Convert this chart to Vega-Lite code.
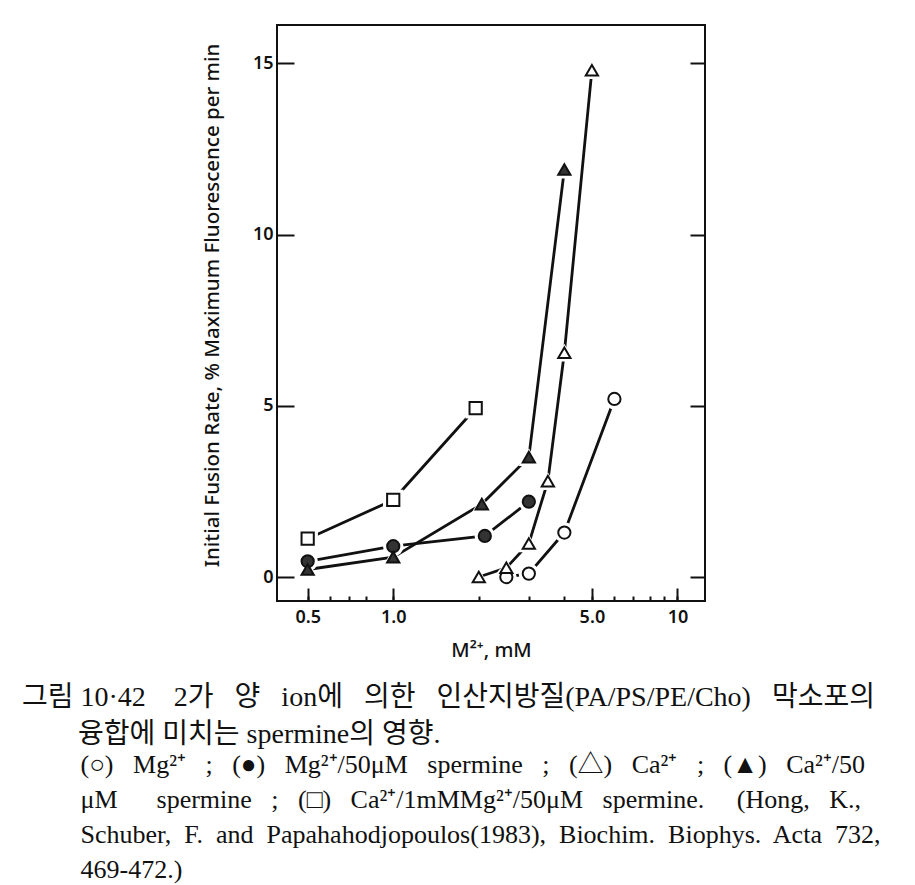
{
  "$schema": "https://vega.github.io/schema/vega-lite/v6.json",
  "width": 428,
  "height": 576,
  "autosize": {"type": "none"},
  "padding": {"left": 277, "top": 25, "right": 210, "bottom": 284},
  "background": "white",
  "config": {
    "view": {"stroke": "#111", "strokeWidth": 2},
    "axis": {
      "domain": false,
      "grid": false,
      "tickColor": "#111",
      "tickWidth": 2,
      "labelColor": "#111",
      "labelFont": "Noto Sans",
      "labelFontSize": 18,
      "labelFontWeight": 600,
      "titleColor": "#111",
      "titleFont": "Noto Sans",
      "titleFontWeight": 500,
      "titleFontSize": 20
    }
  },
  "title": {
    "text": [
      "그림 10·42\u00a0\u00a0\u00a0 2가\u00a0\u00a0 양\u00a0\u00a0 ion에\u00a0\u00a0 의한\u00a0\u00a0 인산지방질(PA/PS/PE/Cho)\u00a0\u00a0 막소포의",
      "\u200b\u2003\u2003융합에 미치는 spermine의 영향."
    ],
    "subtitle": [
      "\u200b\u2003\u2003\u00a0(○)\u00a0\u00a0 Mg²⁺\u00a0\u00a0 ;\u00a0\u00a0 (●)\u00a0\u00a0 Mg²⁺/50μM\u00a0\u00a0 spermine\u00a0\u00a0 ;\u00a0\u00a0 (△)\u00a0\u00a0 Ca²⁺\u00a0\u00a0 ;\u00a0\u00a0 (▲)\u00a0\u00a0 Ca²⁺/50",
      "\u200b\u2003\u2003\u00a0μM\u00a0\u00a0\u00a0\u00a0\u00a0 spermine\u00a0\u00a0 ;\u00a0\u00a0 (□)\u00a0\u00a0 Ca²⁺/1mMMg²⁺/50μM\u00a0\u00a0 spermine.\u00a0\u00a0\u00a0\u00a0 (Hong,\u00a0\u00a0 K.,",
      "\u200b\u2003\u2003\u00a0Schuber,\u00a0 F.\u00a0 and\u00a0 Papahahodjopoulos(1983),\u00a0 Biochim.\u00a0 Biophys.\u00a0 Acta\u00a0 732,",
      "\u200b\u2003\u2003\u00a0469-472.)"
    ],
    "orient": "bottom",
    "anchor": "start",
    "frame": "group",
    "dx": -255,
    "offset": 24,
    "font": "Liberation Serif, Noto Sans CJK KR",
    "fontSize": 28,
    "fontWeight": "normal",
    "color": "#111",
    "lineHeight": 37,
    "subtitleFont": "Liberation Serif, Noto Sans CJK KR",
    "subtitleFontSize": 26,
    "subtitleColor": "#111",
    "subtitleLineHeight": 35,
    "subtitlePadding": 3
  },
  "data": {
    "values": [
      {"series": "Mg2+", "x": 2.5, "y": 0.0},
      {"series": "Mg2+", "x": 3.0, "y": 0.1},
      {"series": "Mg2+", "x": 4.0, "y": 1.3},
      {"series": "Mg2+", "x": 6.0, "y": 5.2},
      {"series": "Mg2+/50uM spermine", "x": 0.5, "y": 0.46},
      {"series": "Mg2+/50uM spermine", "x": 1.0, "y": 0.9},
      {"series": "Mg2+/50uM spermine", "x": 2.1, "y": 1.2},
      {"series": "Mg2+/50uM spermine", "x": 3.0, "y": 2.2},
      {"series": "Ca2+", "x": 2.0, "y": 0.0},
      {"series": "Ca2+", "x": 2.5, "y": 0.27},
      {"series": "Ca2+", "x": 3.0, "y": 0.98},
      {"series": "Ca2+", "x": 3.5, "y": 2.8},
      {"series": "Ca2+", "x": 4.0, "y": 6.55},
      {"series": "Ca2+", "x": 5.0, "y": 14.8},
      {"series": "Ca2+/50uM spermine", "x": 0.5, "y": 0.22},
      {"series": "Ca2+/50uM spermine", "x": 1.0, "y": 0.58},
      {"series": "Ca2+/50uM spermine", "x": 2.05, "y": 2.13},
      {"series": "Ca2+/50uM spermine", "x": 3.0, "y": 3.5},
      {"series": "Ca2+/50uM spermine", "x": 4.0, "y": 11.9},
      {"series": "Ca2+/1mM Mg2+/50uM spermine", "x": 0.5, "y": 1.12},
      {"series": "Ca2+/1mM Mg2+/50uM spermine", "x": 1.0, "y": 2.25},
      {"series": "Ca2+/1mM Mg2+/50uM spermine", "x": 1.95, "y": 4.93}
    ]
  },
  "layer": [
    {
      "mark": {"type": "line", "color": "#111", "strokeWidth": 2.8},
      "encoding": {
        "x": {
          "field": "x", "type": "quantitative",
          "scale": {"type": "log", "domain": [0.39, 12.5], "nice": false},
          "axis": {
            "orient": "bottom",
            "values": [0.5, 0.6, 0.7, 0.8, 1, 2, 3, 4, 5, 6, 7, 8, 9, 10],
            "tickSize": -5,
            "labels": false,
            "title": null
          }
        },
        "y": {
          "field": "y", "type": "quantitative",
          "scale": {"domain": [-0.7, 16.12], "nice": false, "zero": false},
          "axis": {
            "orient": "right",
            "values": [0, 5, 10, 15],
            "tickSize": -15,
            "labels": false,
            "title": null
          }
        },
        "detail": {"field": "series"}
      }
    },
    {
      "mark": {"type": "point", "filled": true, "fill": "white", "opacity": 1, "strokeWidth": 0, "size": 420},
      "encoding": {
        "x": {"field": "x", "type": "quantitative", "axis": null},
        "y": {"field": "y", "type": "quantitative", "axis": null},
        "shape": {
          "field": "series", "type": "nominal", "legend": null,
          "scale": {
            "domain": ["Mg2+", "Mg2+/50uM spermine", "Ca2+", "Ca2+/50uM spermine", "Ca2+/1mM Mg2+/50uM spermine"],
            "range": ["circle", "circle", "triangle-up", "triangle-up", "square"]
          }
        }
      }
    },
    {
      "mark": {"type": "point", "opacity": 1, "stroke": "#111", "strokeWidth": 2, "size": 150},
      "encoding": {
        "x": {
          "field": "x", "type": "quantitative",
          "axis": {
            "orient": "bottom",
            "values": [0.5, 1, 5, 10],
            "tickSize": -13,
            "labelPadding": 20,
            "labelExpr": "datum.value == 10 ? '10' : format(datum.value, '.1f')",
            "title": "M²⁺, mM",
            "titlePadding": 14
          }
        },
        "y": {
          "field": "y", "type": "quantitative",
          "axis": {
            "orient": "left",
            "values": [0, 5, 10, 15],
            "tickSize": -17,
            "labelPadding": 21,
            "title": "Initial Fusion Rate, % Maximum Fluorescence per min",
            "titleFontSize": 20.5,
            "titleY": 280,
            "titlePadding": 30
          }
        },
        "shape": {
          "field": "series", "type": "nominal", "legend": null,
          "scale": {
            "domain": ["Mg2+", "Mg2+/50uM spermine", "Ca2+", "Ca2+/50uM spermine", "Ca2+/1mM Mg2+/50uM spermine"],
            "range": ["circle", "circle", "triangle-up", "triangle-up", "square"]
          }
        },
        "fill": {
          "field": "series", "type": "nominal", "legend": null,
          "scale": {
            "domain": ["Mg2+", "Mg2+/50uM spermine", "Ca2+", "Ca2+/50uM spermine", "Ca2+/1mM Mg2+/50uM spermine"],
            "range": ["white", "#333", "white", "#333", "white"]
          }
        }
      }
    }
  ],
  "resolve": {"axis": {"x": "independent", "y": "independent"}}
}
